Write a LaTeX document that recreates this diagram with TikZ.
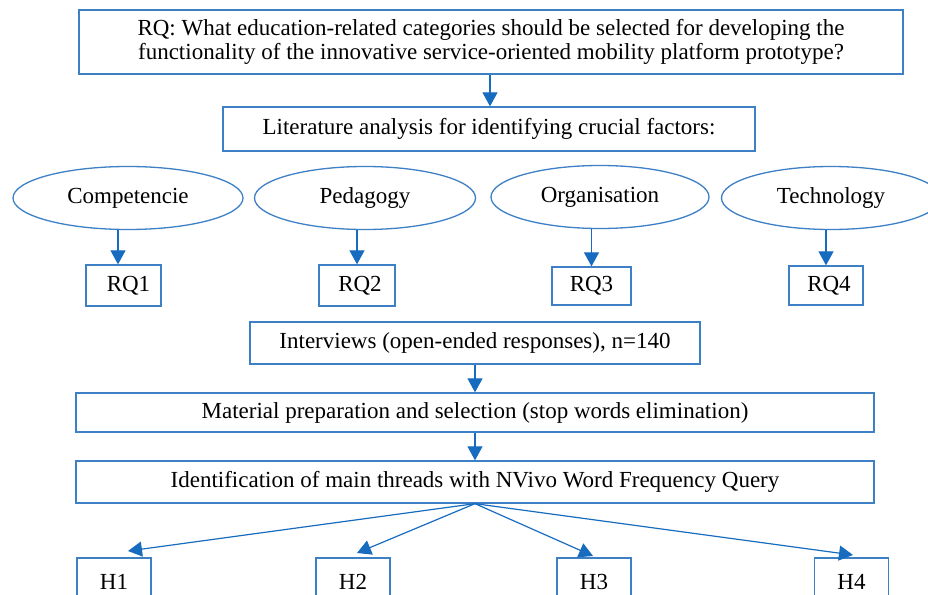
\documentclass[tikz,border=0pt]{standalone}
\usepackage{fontspec}
\setmainfont{Liberation Serif}
\usetikzlibrary{arrows.meta,shapes.geometric,calc}
\definecolor{boxblue}{RGB}{62,128,198}
\definecolor{arrblue}{RGB}{24,108,192}
\tikzset{
  x=1pt,y=-1pt,
  every node/.style={font=\fontsize{23}{24.5}\selectfont, text=black},
  box/.style={draw=boxblue, line width=1.3pt, rectangle, inner sep=0pt, align=center},
  oval/.style={draw=boxblue, line width=1.3pt, ellipse, inner sep=0pt},
  arr/.style={draw=arrblue, line width=1.2pt, -{Triangle[width=15pt,length=14pt]}},
}
\begin{document}
\begin{tikzpicture}
\useasboundingbox (0,0) rectangle (928,594);
\clip (0,0) rectangle (928,594);
\fill[white] (0,0) rectangle (928,594);
\node[box, minimum width=824pt, minimum height=64pt] (rq) at (491,42)
  {RQ: What education-related categories should be selected for developing the\\functionality of the innovative service-oriented mobility platform prototype?};
\node[box, minimum width=532pt, minimum height=44pt] (lit) at (489,129)
  {Literature analysis for identifying crucial factors:};
\node[oval, minimum width=230pt, minimum height=63pt] (c1) at (128,198) {Competencie};
\node[oval, minimum width=221pt, minimum height=63pt] (c2) at (365,198) {Pedagogy};
\node[oval, minimum width=218pt, minimum height=63pt] (c3) at (600,197) {Organisation};
\node[oval, minimum width=219pt, minimum height=63pt] (c4) at (831,198) {Technology};
\node[box, minimum width=75pt, minimum height=41pt] (rq1) at (123.5,285.5) {\hspace*{10pt}RQ1};
\node[box, minimum width=76pt, minimum height=41pt] (rq2) at (357,285.5) {\hspace*{6pt}RQ2};
\node[box, minimum width=79pt, minimum height=38pt] (rq3) at (591.5,286) {RQ3};
\node[box, minimum width=74pt, minimum height=39pt] (rq4) at (826,285.5) {\hspace*{6pt}RQ4};
\node[box, minimum width=450pt, minimum height=42pt] (int) at (475,343)
  {Interviews (open-ended responses), n=140};
\node[box, minimum width=798pt, minimum height=39pt] (mat) at (475,412.5)
  {Material preparation and selection (stop words elimination)};
\node[box, minimum width=798pt, minimum height=42pt] (ident) at (475,482)
  {Identification of main threads with NVivo Word Frequency Query};
\node[box, minimum width=74pt, minimum height=48pt] (h1) at (114,582) {H1};
\node[box, minimum width=74pt, minimum height=48pt] (h2) at (353,582) {H2};
\node[box, minimum width=74pt, minimum height=48pt] (h3) at (594,582) {H3};
\node[box, minimum width=74pt, minimum height=48pt] (h4) at (851.5,582) {H4};
\coordinate (t1) at (128,551);
\coordinate (t2) at (357,553);
\coordinate (t3) at (593,556);
\coordinate (t4) at (853,555);
\draw[arr] (rq.south -| 490,0) -- (lit.north -| 490,0);
\draw[arr] (c1.south -| 118,0) -- (rq1.north -| 118,0);
\draw[arr] (c2.south -| rq2.north) -- (rq2.north);
\draw[arr] (c3.south -| rq3.north) -- (rq3.north);
\draw[arr] (c4.south -| rq4.north) -- (rq4.north);
\draw[arr] (int.south) -- (mat.north);
\draw[arr] (mat.south) -- (ident.north);
\foreach \i in {1,2,3,4} \draw[arr] (ident.south) -- (t\i);
\end{tikzpicture}
\end{document}
